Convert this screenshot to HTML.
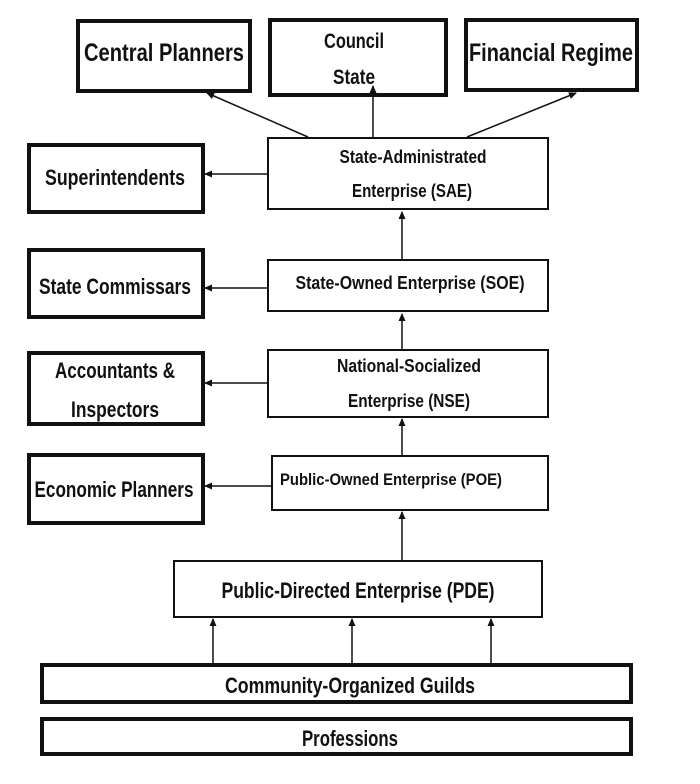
<!DOCTYPE html>
<html><head><meta charset="utf-8"><style>
html,body{margin:0;padding:0;background:#fff;}
svg{display:block;}
text{font-family:"Liberation Sans Narrow","Liberation Sans",sans-serif;font-weight:bold;fill:#111;text-anchor:middle;}
</style></head><body>
<svg width="700" height="784" viewBox="0 0 700 784" xmlns="http://www.w3.org/2000/svg">
<defs>
<marker id="a" markerWidth="8" markerHeight="8" refX="7" refY="4" orient="auto" markerUnits="userSpaceOnUse">
<path d="M0,0.5 L8,4 L0,7.5 z" fill="#111"/>
</marker>
</defs>
<g fill="#fff" stroke="#111">
<rect x="78" y="21" width="172" height="70" stroke-width="4"/>
<rect x="270" y="20" width="176" height="75" stroke-width="4"/>
<rect x="466" y="20" width="171" height="70" stroke-width="4"/>
<rect x="29" y="145" width="174" height="67" stroke-width="4"/>
<rect x="29" y="250" width="174" height="67" stroke-width="4"/>
<rect x="29" y="353" width="174" height="71" stroke-width="4"/>
<rect x="29" y="455" width="174" height="68" stroke-width="4"/>
<rect x="268" y="138" width="280" height="71" stroke-width="2"/>
<rect x="268" y="260" width="280" height="51" stroke-width="2"/>
<rect x="268" y="350" width="280" height="67" stroke-width="2"/>
<rect x="272" y="456" width="276" height="54" stroke-width="2"/>
<rect x="174" y="561" width="368" height="56" stroke-width="2"/>
<rect x="42" y="665" width="589" height="37" stroke-width="4"/>
<rect x="42" y="719" width="589" height="35" stroke-width="4"/>
</g>
<g stroke="#111" stroke-width="1.5" marker-end="url(#a)">
<line x1="308" y1="137" x2="207" y2="93"/>
<line x1="373" y1="137" x2="373" y2="86"/>
<line x1="467" y1="137" x2="576" y2="93"/>
<line x1="268" y1="174" x2="205" y2="174"/>
<line x1="268" y1="288" x2="205" y2="288"/>
<line x1="268" y1="383" x2="205" y2="383"/>
<line x1="272" y1="486" x2="205" y2="486"/>
<line x1="402" y1="260" x2="402" y2="212"/>
<line x1="402" y1="350" x2="402" y2="314"/>
<line x1="402" y1="456" x2="402" y2="419"/>
<line x1="402" y1="561" x2="402" y2="512"/>
<line x1="213" y1="665" x2="213" y2="619"/>
<line x1="352" y1="665" x2="352" y2="619"/>
<line x1="491" y1="665" x2="491" y2="619"/>
</g>
<text x="164" y="61" font-size="25" textLength="160" lengthAdjust="spacingAndGlyphs">Central Planners</text>
<text x="354" y="48" font-size="21" textLength="60" lengthAdjust="spacingAndGlyphs">Council</text>
<text x="354" y="84" font-size="21" textLength="42" lengthAdjust="spacingAndGlyphs">State</text>
<text x="551" y="61" font-size="25" textLength="164" lengthAdjust="spacingAndGlyphs">Financial Regime</text>
<text x="115" y="185" font-size="22" textLength="140" lengthAdjust="spacingAndGlyphs">Superintendents</text>
<text x="115" y="294" font-size="22" textLength="152" lengthAdjust="spacingAndGlyphs">State Commissars</text>
<text x="115" y="378" font-size="22" textLength="120" lengthAdjust="spacingAndGlyphs">Accountants &amp;</text>
<text x="115" y="417" font-size="22" textLength="88" lengthAdjust="spacingAndGlyphs">Inspectors</text>
<text x="114" y="497" font-size="22" textLength="159" lengthAdjust="spacingAndGlyphs">Economic Planners</text>
<text x="413" y="163" font-size="18" textLength="147" lengthAdjust="spacingAndGlyphs">State-Administrated</text>
<text x="412" y="197" font-size="18" textLength="120" lengthAdjust="spacingAndGlyphs">Enterprise (SAE)</text>
<text x="410" y="289" font-size="18" textLength="229" lengthAdjust="spacingAndGlyphs">State-Owned Enterprise (SOE)</text>
<text x="409" y="372" font-size="18" textLength="144" lengthAdjust="spacingAndGlyphs">National-Socialized</text>
<text x="409" y="407" font-size="18" textLength="122" lengthAdjust="spacingAndGlyphs">Enterprise (NSE)</text>
<text x="391" y="485" font-size="17" textLength="222" lengthAdjust="spacingAndGlyphs">Public-Owned Enterprise (POE)</text>
<text x="358" y="598" font-size="22" textLength="273" lengthAdjust="spacingAndGlyphs">Public-Directed Enterprise (PDE)</text>
<text x="350" y="693" font-size="22" textLength="250" lengthAdjust="spacingAndGlyphs">Community-Organized Guilds</text>
<text x="350" y="746" font-size="22" textLength="96" lengthAdjust="spacingAndGlyphs">Professions</text>
</svg>
</body></html>
